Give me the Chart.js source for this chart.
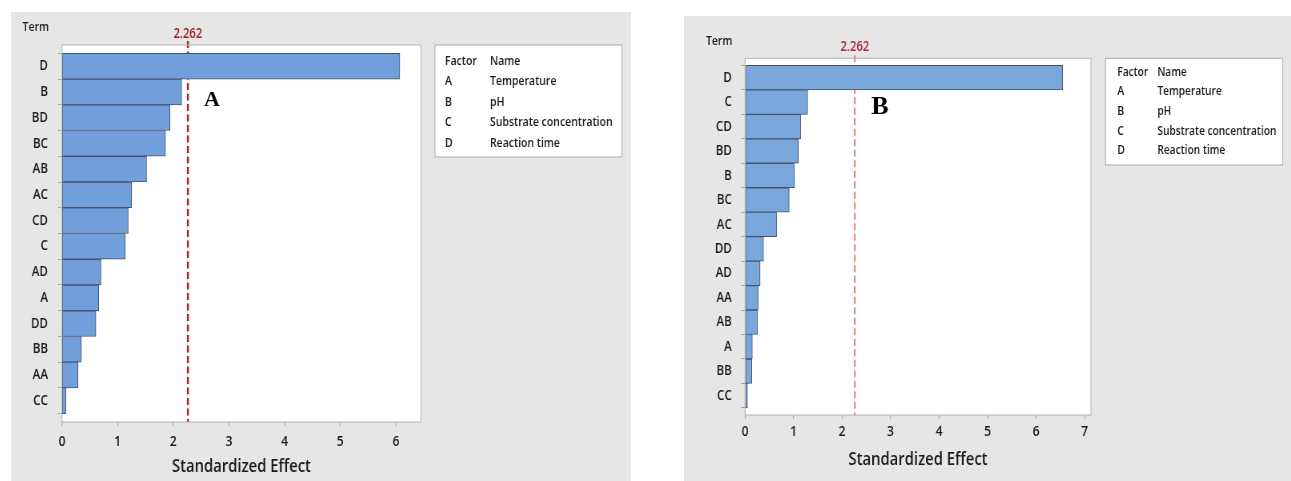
<!DOCTYPE html>
<html>
<head>
<meta charset="utf-8">
<title>Pareto Chart of the Standardized Effects</title>
<script src="https://cdn.jsdelivr.net/npm/chart.js@4.4.1/dist/chart.umd.min.js"></script>
<style>
  html, body { margin: 0; padding: 0; background: #ffffff; width: 1291px; height: 481px; overflow: hidden; }
  .panel { position: absolute; background: #e6e6e6; overflow: hidden; }
  .panel canvas { position: absolute; left: 0; top: 0; transform-origin: 0 0; }
</style>
</head>
<body>
<div class="panel" style="left:11px; top:12px; width:620px; height:469px;"><canvas id="chartA"></canvas></div>
<div class="panel" style="left:684px; top:16px; width:607px; height:465px;"><canvas id="chartB"></canvas></div>

<script>
// Pareto charts of standardized effects (alpha = 0.05) for two response models.
const termsA   = ['D', 'B', 'BD', 'BC', 'AB', 'AC', 'CD', 'C', 'AD', 'A', 'DD', 'BB', 'AA', 'CC'];
const effectsA = [6.07, 2.15, 1.94, 1.86, 1.52, 1.25, 1.19, 1.14, 0.70, 0.66, 0.61, 0.35, 0.29, 0.07];

const termsB   = ['D', 'C', 'CD', 'BD', 'B', 'BC', 'AC', 'DD', 'AD', 'AA', 'AB', 'A', 'BB', 'CC'];
const effectsB = [6.55, 1.29, 1.15, 1.10, 1.02, 0.91, 0.65, 0.38, 0.31, 0.27, 0.26, 0.15, 0.14, 0.05];

const factorCodes = ['A', 'B', 'C', 'D'];
const factorNames = ['Temperature', 'pH', 'Substrate concentration', 'Reaction time'];

const criticalEffect = 2.262;   // t-value reference line
const xTitle = 'Standardized Effect';
const yTitle = 'Term';

const FONT = '"Open Sans", "Noto Sans", sans-serif';
const TEXT = '#1a1a1a';
const SQUEEZE = 0.8;   // horizontal compression of each panel

function makePareto(canvasId, terms, effects, tag, g) {
  const canvas = document.getElementById(canvasId);
  const W = g.panelW / SQUEEZE, H = g.panelH;
  canvas.width = W; canvas.height = H;
  canvas.style.width = W + 'px'; canvas.style.height = H + 'px';
  canvas.style.transform = 'scaleX(' + SQUEEZE + ')';

  const decor = {
    id: 'paretoDecor',
    beforeDraw(chart) {
      const { ctx, chartArea: a } = chart;
      ctx.save();
      ctx.fillStyle = '#e6e6e6';
      ctx.fillRect(0, 0, chart.width, chart.height);
      ctx.fillStyle = '#ffffff';
      ctx.fillRect(a.left, a.top, a.right - a.left, a.bottom - a.top);
      ctx.restore();
    },
    beforeDatasetsDraw(chart) {
      // reference line for the critical standardized effect
      const { ctx, chartArea: a, scales } = chart;
      const x = scales.x.getPixelForValue(criticalEffect);
      ctx.save();
      ctx.strokeStyle = g.lineColor;
      ctx.lineWidth = g.lineWidth;
      ctx.setLineDash([7, 3.5]);
      ctx.beginPath();
      ctx.moveTo(x, a.top - g.lineOver);
      ctx.lineTo(x, a.bottom);
      ctx.stroke();
      ctx.restore();
    },
    afterDraw(chart) {
      const { ctx, chartArea: a, scales } = chart;
      ctx.save();
      // plot frame
      ctx.strokeStyle = '#b0b0b0';
      ctx.lineWidth = 1;
      ctx.strokeRect(a.left, a.top, a.right - a.left, a.bottom - a.top);

      // axis caption above the term labels
      ctx.fillStyle = TEXT;
      ctx.font = '600 13px ' + FONT;
      ctx.textAlign = 'left';
      ctx.textBaseline = 'middle';
      ctx.fillText(yTitle, g.termX, g.termY);

      // value of the reference line
      const x = scales.x.getPixelForValue(criticalEffect);
      ctx.fillStyle = g.labelColor;
      ctx.font = '600 14px ' + FONT;
      ctx.textAlign = 'center';
      ctx.fillText(criticalEffect.toFixed(3), x, g.critY);

      // factor key
      const b = g.key;
      ctx.fillStyle = '#ffffff';
      ctx.fillRect(b.x, b.y, b.w, b.h);
      ctx.strokeStyle = '#a8a8a8';
      ctx.strokeRect(b.x, b.y, b.w, b.h);
      ctx.fillStyle = TEXT;
      ctx.font = '600 ' + b.size + 'px ' + FONT;
      ctx.textAlign = 'left';
      ctx.fillText('Factor', b.codeX, b.row0);
      ctx.fillText('Name', b.nameX, b.row0);
      factorCodes.forEach((code, i) => {
        const y = b.row0 + (i + 1) * b.step;
        ctx.fillText(code, b.codeX, y);
        ctx.fillText(factorNames[i], b.nameX, y);
      });

      // panel tag
      ctx.translate(g.tagX, g.tagY);
      ctx.scale(1 / SQUEEZE, 1);
      ctx.fillStyle = '#000000';
      ctx.font = 'bold ' + g.tagSize + 'px "Liberation Serif", "Times New Roman", serif';
      ctx.textAlign = 'left';
      ctx.textBaseline = 'middle';
      ctx.fillText(tag, 0, 0);
      ctx.restore();
    }
  };

  return new Chart(canvas, {
    type: 'bar',
    data: {
      datasets: [{
        data: effects.map((v, i) => ({ x: v, y: i })),
        backgroundColor: g.barColor,
        borderColor: '#44536a',
        borderWidth: 1,
        borderSkipped: false,
        barPercentage: 1,
        categoryPercentage: 1
      }]
    },
    options: {
      indexAxis: 'y',
      responsive: false,
      animation: false,
      devicePixelRatio: 1,
      layout: { padding: { left: 0, right: g.padRight, top: g.padTop, bottom: 0 } },
      plugins: { legend: { display: false }, tooltip: { enabled: false } },
      scales: {
        x: {
          type: 'linear',
          position: 'bottom',
          min: 0,
          max: g.xMax,
          ticks: {
            stepSize: 1, includeBounds: false, maxRotation: 0, autoSkip: false,
            color: TEXT, font: { family: FONT, size: 15, weight: '600' }, padding: g.xTickPad
          },
          grid: { drawOnChartArea: false, drawTicks: true, tickLength: 4, color: '#a6a6a6' },
          border: { display: false },
          title: {
            display: true, text: xTitle, color: TEXT,
            font: { family: FONT, size: 18.5, weight: '600' },
            padding: { top: 0, bottom: g.titlePad }
          },
          afterFit(s) { s.height = g.xAxisH; }
        },
        y: {
          type: 'linear',
          reverse: true,
          min: -g.yPad,
          max: terms.length - 1 + g.yPad,
          afterBuildTicks(s) { s.ticks = terms.map((_, i) => ({ value: i })); },
          ticks: {
            autoSkip: false, color: TEXT, font: { family: FONT, size: 14.5, weight: '600' },
            padding: g.yTickPad,
            callback: v => terms[v] ?? ''
          },
          grid: { drawOnChartArea: false, drawTicks: true, tickLength: 5, color: '#a6a6a6' },
          border: { display: false },
          afterFit(s) { s.width = g.yAxisW; }
        }
      }
    },
    plugins: [decor]
  });
}

makePareto('chartA', termsA, effectsA, 'A', {
  panelW: 620, panelH: 469,
  padTop: 33, padRight: 775 - 512.5, yAxisW: 63.75, xAxisH: 59,
  xMax: 6.45, yPad: 0.3,
  xTickPad: 7, yTickPad: 12.5, titlePad: 3,
  barColor: '#719fdb',
  lineColor: '#b0222a', lineWidth: 2.5, lineOver: 4, labelColor: '#a01c22',
  termX: 14.6, termY: 15.5, critY: 22,
  key: { x: 530, y: 33, w: 233.75, h: 112, codeX: 542.5, nameX: 598.75, row0: 49, step: 20.5, size: 13.1 },
  tagX: 241.25, tagY: 88, tagSize: 22
});

makePareto('chartB', termsB, effectsB, 'B', {
  panelW: 607, panelH: 465,
  padTop: 42.3, padRight: 250, yAxisW: 76.25, xAxisH: 66,
  xMax: 7.13, yPad: 0.27,
  xTickPad: 4, yTickPad: 11.6, titlePad: 10.5,
  barColor: '#79a6db',
  lineColor: '#e8585e', lineWidth: 1.6, lineOver: 3, labelColor: '#b0282e',
  termX: 27.5, termY: 25, critY: 31,
  key: { x: 526.25, y: 42.3, w: 221.25, h: 106.7, codeX: 540.9, nameX: 590.9, row0: 56, step: 19.7, size: 12.7 },
  tagX: 233.75, tagY: 91.5, tagSize: 26
});
</script>
</body>
</html>
